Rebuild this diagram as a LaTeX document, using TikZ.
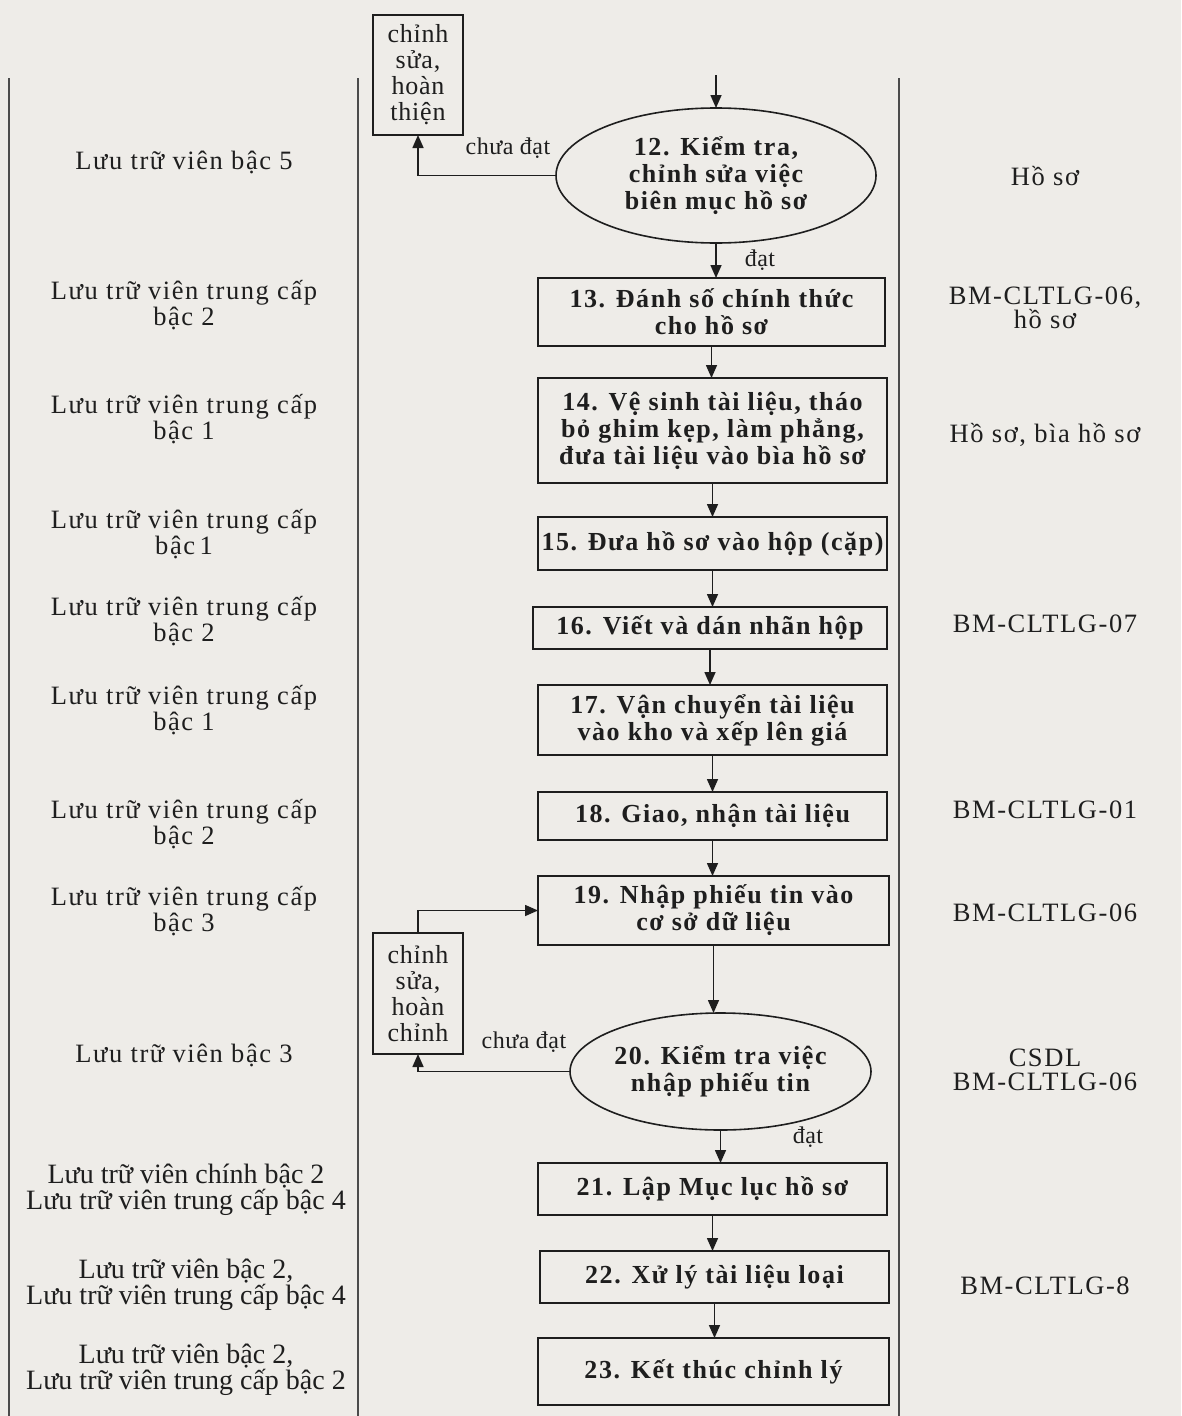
\documentclass[tikz,border=0pt]{standalone}
\usepackage{fontspec}
\setmainfont{Liberation Serif}[LetterSpace=6.0]
\usetikzlibrary{arrows.meta,shapes.geometric}
\definecolor{bgc}{HTML}{EEECE8}
\definecolor{ink}{HTML}{1E1E1E}
\begin{document}
\begin{tikzpicture}[x=1pt,y=-1pt,
  every node/.style={inner sep=0pt,outer sep=0pt,text=ink},
  lane/.style={draw=ink!80,line width=1.6pt},
  stepbox/.style={draw=ink,line width=1.6pt,rectangle,align=center,font=\fontsize{26}{27}\selectfont\bfseries},
  decis/.style={draw=ink,line width=1.6pt,ellipse,align=center,font=\fontsize{26}{27}\selectfont\bfseries},
  fixbox/.style={draw=ink,line width=1.6pt,rectangle,align=center,minimum width=90pt,font=\fontsize{26}{26}\selectfont\addfontfeature{LetterSpace=3}},
  role/.style={align=center,font=\fontsize{26.5}{26}\selectfont},
  roleN/.style={align=center,font=\fontsize{28}{26}\selectfont\addfontfeature{LetterSpace=0}},
  doc/.style={align=center,font=\fontsize{26.5}{24}\selectfont},
  lbl/.style={font=\fontsize{24}{24}\selectfont\addfontfeature{LetterSpace=2}},
  arr/.style={draw=ink,line width=1.6pt,-{Triangle[length=13pt,width=11pt]}}
]
\useasboundingbox[fill=bgc] (0,0) rectangle (1181,1416);
% lanes
\draw[lane] (9,78) -- (9,1416);
\draw[lane] (358,78) -- (358,1416);
\draw[lane] (899,78) -- (899,1416);

% process nodes
\node[fixbox,minimum height=120pt] (A) at (418,75) {chỉnh\\sửa,\\hoàn\\thiện};
\coordinate (top) at (716,75);
\node[decis,minimum width=320pt,minimum height=135pt] (e12) at (716,175.5) {12. Kiểm tra,\\chỉnh sửa việc\\biên mục hồ sơ};
\node[stepbox,minimum width=347pt,minimum height=68pt] (b13) at (711.5,312) {13. Đánh số chính thức\\cho hồ sơ};
\node[stepbox,minimum width=349pt,minimum height=105pt] (b14) at (712.5,430.5) {14. Vệ sinh tài liệu, tháo\\bỏ ghim kẹp, làm phẳng,\\đưa tài liệu vào bìa hồ sơ};
\node[stepbox,minimum width=349pt,minimum height=53pt] (b15) at (712.5,543.5) {15. Đưa hồ sơ vào hộp (cặp)};
\node[stepbox,minimum width=354pt,minimum height=42pt] (b16) at (710,628) {16. Viết và dán nhãn hộp};
\node[stepbox,minimum width=349pt,minimum height=70pt] (b17) at (712.5,720) {17. Vận chuyển tài liệu\\vào kho và xếp lên giá};
\node[stepbox,minimum width=349pt,minimum height=48pt] (b18) at (712.5,816) {18. Giao, nhận tài liệu};
\node[stepbox,minimum width=351pt,minimum height=69pt] (b19) at (713.5,910.5) {19. Nhập phiếu tin vào\\cơ sở dữ liệu};
\node[fixbox,minimum height=121pt] (B) at (418,993.5) {chỉnh\\sửa,\\hoàn\\chỉnh};
\node[decis,minimum width=301pt,minimum height=117pt] (e20) at (720.5,1071.5) {20. Kiểm tra việc\\nhập phiếu tin};
\node[stepbox,minimum width=349pt,minimum height=52pt] (b21) at (712.5,1189) {21. Lập Mục lục hồ sơ};
\node[stepbox,minimum width=349pt,minimum height=52pt] (b22) at (714.5,1277) {22. Xử lý tài liệu loại};
\node[stepbox,minimum width=351pt,minimum height=67pt] (b23) at (713.5,1371.5) {23. Kết thúc chỉnh lý};

% connectors
\draw[arr] (top) -- (e12.north);
\draw[arr] (e12.south) -- (e12.south |- b13.north);
\draw[arr] (e12.west) -| (A.south);
\node[lbl] (l1) at (508,148) {chưa đạt};
\node[lbl] (l2) at (760,260) {đạt};
\draw[arr] (b13.south) -- (b13.south |- b14.north);
\draw[arr] (b14.south) -- (b14.south |- b15.north);
\draw[arr] (b15.south) -- (b15.south |- b16.north);
\draw[arr] (b16.south) -- (b16.south |- b17.north);
\draw[arr] (b17.south) -- (b17.south |- b18.north);
\draw[arr] (b18.south) -- (b18.south |- b19.north);
\draw[arr] (b19.south) -- (b19.south |- e20.north);
\draw[arr] (e20.west) -| (B.south);
\draw[arr] (B.north) |- (b19.west);
\node[lbl] (l3) at (524,1042) {chưa đạt};
\node[lbl] (l4) at (808,1137) {đạt};
\draw[arr] (e20.south) -- (e20.south |- b21.north);
\draw[arr] (b21.south) -- (b21.south |- b22.north);
\draw[arr] (b22.south) -- (b22.south |- b23.north);

% roles
\node[role] (r12) at (184,162) {Lưu trữ viên bậc 5};
\node[role] (r13) at (184,305) {Lưu trữ viên trung cấp\\bậc 2};
\node[role] (r14) at (184,419) {Lưu trữ viên trung cấp\\bậc 1};
\node[role] (r15) at (184,534) {Lưu trữ viên trung cấp\\bậc\,1};
\node[role] (r16) at (184,621) {Lưu trữ viên trung cấp\\bậc 2};
\node[role] (r17) at (184,710) {Lưu trữ viên trung cấp\\bậc 1};
\node[role] (r18) at (184,824) {Lưu trữ viên trung cấp\\bậc 2};
\node[role] (r19) at (184,911) {Lưu trữ viên trung cấp\\bậc 3};
\node[role] (r20) at (184,1055) {Lưu trữ viên bậc 3};
\node[roleN] (r21) at (186,1190) {Lưu trữ viên chính bậc 2\\Lưu trữ viên trung cấp bậc 4};
\node[roleN] (r22) at (186,1285) {Lưu trữ viên bậc 2,\\Lưu trữ viên trung cấp bậc 4};
\node[roleN] (r23) at (186,1370) {Lưu trữ viên bậc 2,\\Lưu trữ viên trung cấp bậc 2};

% documents
\node[doc] (d12) at (1045,176) {Hồ sơ};
\node[doc] (d13) at (1045,308) {BM-CLTLG-06,\\hồ sơ};
\node[doc] (d14) at (1045,435) {Hồ sơ, bìa hồ sơ};
\node[doc] (d16) at (1045,624) {BM-CLTLG-07};
\node[doc] (d18) at (1045,810) {BM-CLTLG-01};
\node[doc] (d19) at (1045,913) {BM-CLTLG-06};
\node[doc] (d20) at (1045,1070) {CSDL\\BM-CLTLG-06};
\node[doc] (d22) at (1045,1286) {BM-CLTLG-8};
\end{tikzpicture}
\end{document}
